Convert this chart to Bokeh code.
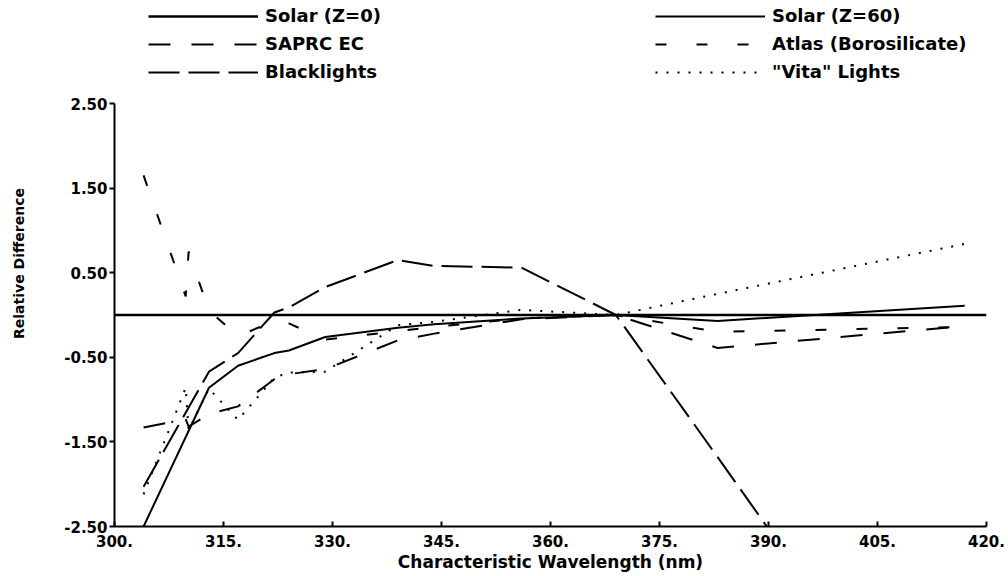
from bokeh.plotting import figure
from bokeh.models import Range1d, FixedTicker, Legend, LegendItem
from bokeh.embed import file_html
from bokeh.resources import INLINE

# ---------------- data ----------------
solar0_x = [300, 420]
solar0_y = [0.0, 0.0]

solar60_x = [304, 313, 317, 322, 324, 329, 339, 344, 356, 369, 383, 417]
solar60_y = [-2.50, -0.86, -0.60, -0.45, -0.42, -0.26, -0.15, -0.11, -0.04, 0.00, -0.07, 0.11]

saprc_x = [304, 309.8, 310.2, 313, 317, 322, 324, 329, 339, 344, 356, 369, 383, 417]
saprc_y = [-1.33, -1.23, -1.32, -1.17, -1.08, -0.76, -0.70, -0.64, -0.30, -0.22, -0.05, 0.00, -0.39, -0.13]

atlas_x = [304, 309.8, 310.2, 313, 317, 322, 324, 329, 339, 344, 356, 369, 383, 417]
atlas_y = [1.65, 0.22, 0.75, 0.05, -0.25, -0.07, -0.10, -0.29, -0.19, -0.14, -0.04, 0.00, -0.20, -0.14]

black_x = [304, 313, 317, 322, 324, 329, 339, 344, 356, 369, 383, 417]
black_y = [-2.03, -0.67, -0.45, 0.03, 0.09, 0.33, 0.65, 0.58, 0.56, 0.00, -1.68, -5.80]

vita_x = [304, 309.8, 310.2, 313, 317, 322, 324, 329, 339, 344, 356, 369, 383, 417]
vita_y = [-2.12, -0.86, -1.36, -0.87, -1.24, -0.74, -0.68, -0.67, -0.12, -0.08, 0.06, 0.00, 0.25, 0.84]

x_ticks = [300, 315, 330, 345, 360, 375, 390, 405, 420]
x_tick_labels = ["300.", "315.", "330.", "345.", "360.", "375.", "390.", "405.", "420."]
y_ticks = [2.5, 1.5, 0.5, -0.5, -1.5, -2.5]
y_tick_labels = ["2.50", "1.50", "0.50", "-0.50", "-1.50", "-2.50"]

x_title = "Characteristic Wavelength (nm)"
y_title = "Relative Difference"

FONT = "DejaVu Sans"

# plot geometry (pixels): axis box 114..986 x 103..526, legend drawn above it
W, H = 1008, 576
LEFT, RIGHT, TOP_AXIS, BOTTOM = 114, 986, 103, 526
y_lo, y_hi = -2.5, 2.5
y_top = y_hi + TOP_AXIS * (y_hi - y_lo) / (BOTTOM - TOP_AXIS)   # frame reaches the top of the canvas

p = figure(width=W, height=H, output_backend="svg", toolbar_location=None,
           x_range=Range1d(300, 420), y_range=Range1d(y_lo, y_top),
           min_border_left=LEFT, min_border_right=W - RIGHT, min_border_top=0,
           min_border_bottom=H - BOTTOM)
p.xgrid.visible = False
p.ygrid.visible = False
p.outline_line_color = None
p.background_fill_color = "white"
p.border_fill_color = "white"

# x axis
xa = p.xaxis[0]
xa.ticker = FixedTicker(ticks=x_ticks)
xa.major_label_overrides = {float(k): v for k, v in zip(x_ticks, x_tick_labels)}
xa.axis_line_width = 2
xa.major_tick_line_width = 2
xa.major_tick_in = 5
xa.major_tick_out = 0
xa.minor_tick_line_color = None
xa.major_label_standoff = 8
xa.major_label_text_font = FONT
xa.major_label_text_font_style = "bold"
xa.major_label_text_font_size = "15px"
xa.major_label_text_color = "black"
xa.axis_label = x_title
xa.axis_label_text_font = FONT
xa.axis_label_text_font_style = "bold"
xa.axis_label_text_font_size = "17px"
xa.axis_label_text_color = "black"
xa.axis_label_standoff = 2

# y axis (line limited to the data span)
ya = p.yaxis[0]
ya.bounds = (y_lo, y_hi)
ya.ticker = FixedTicker(ticks=y_ticks)
ya.major_label_overrides = {float(k): v for k, v in zip(y_ticks, y_tick_labels)}
ya.axis_line_width = 2
ya.major_tick_line_width = 2
ya.major_tick_in = 0
ya.major_tick_out = 5
ya.minor_tick_line_color = None
ya.major_label_standoff = 2
ya.major_label_text_font = FONT
ya.major_label_text_font_style = "bold"
ya.major_label_text_font_size = "15px"
ya.major_label_text_color = "black"
ya.axis_label = y_title
ya.axis_label_text_font = FONT
ya.axis_label_text_font_style = "bold"
ya.axis_label_text_font_size = "14px"
ya.axis_label_text_color = "black"
ya.axis_label_standoff = 34

# series
r0 = p.line(solar0_x, solar0_y, line_color="black", line_width=2.5)
r60 = p.line(solar60_x, solar60_y, line_color="black", line_width=2)
rs = p.line(saprc_x, saprc_y, line_color="black", line_width=2, line_dash="22 21")
ra = p.line(atlas_x, atlas_y, line_color="black", line_width=2, line_dash="11 30")
rb = p.line(black_x, black_y, line_color="black", line_width=2, line_dash="31 9")
rv = p.line(vita_x, vita_y, line_color="black", line_width=2, line_dash="2 9")


def make_legend(items, x, y):
    lg = Legend(items=items, location=(x, y), orientation="vertical")
    lg.glyph_width = 110
    lg.glyph_height = 20
    lg.label_height = 20
    lg.label_standoff = 7
    lg.spacing = 7
    lg.padding = 0
    lg.margin = 0
    lg.border_line_color = None
    lg.background_fill_alpha = 0
    lg.label_text_font = FONT
    lg.label_text_font_style = "bold"
    lg.label_text_font_size = "18px"
    lg.label_text_color = "black"
    return lg


leg1 = make_legend([LegendItem(label="Solar (Z=0)", renderers=[r0]),
                    LegendItem(label="SAPRC EC", renderers=[rs]),
                    LegendItem(label="Blacklights", renderers=[rb])], 34, 444)
leg2 = make_legend([LegendItem(label="Solar (Z=60)", renderers=[r60]),
                    LegendItem(label="Atlas (Borosilicate)", renderers=[ra]),
                    LegendItem(label="\"Vita\" Lights", renderers=[rv])], 541, 444)
p.add_layout(leg1, "center")
p.add_layout(leg2, "center")

open("out.html", "w").write(file_html(p, INLINE))
